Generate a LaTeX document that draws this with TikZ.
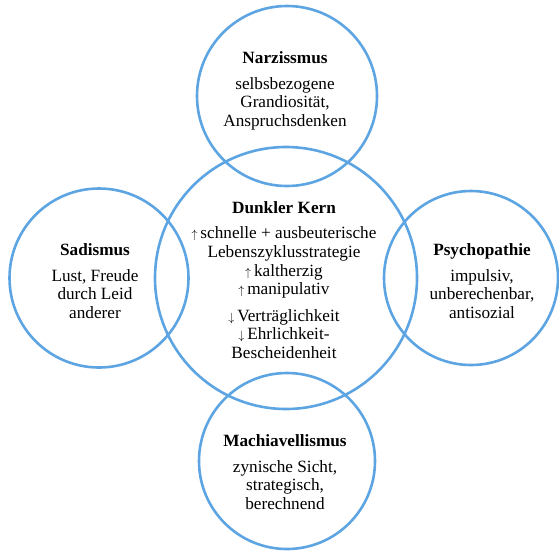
\documentclass[tikz,border=0pt]{standalone}
\usepackage{fontspec}
\setmainfont{Liberation Serif}
\definecolor{cblue}{RGB}{93,165,226}
\newcommand{\upar}{{\fontsize{13}{13}\selectfont$\uparrow$}}
\newcommand{\dnar}{{\fontsize{13}{13}\selectfont$\downarrow$}}
\begin{document}
\begin{tikzpicture}[x=1pt,y=-1pt,
  ring/.style={circle,draw=cblue,line width=2.6pt,inner sep=0pt},
  lbl/.style={align=center,font=\fontsize{17.2}{18.6}\selectfont,inner sep=0pt,text=black}]
\useasboundingbox (0,0) rectangle (559,550);
\node[ring,minimum size=262pt] (kern) at (286,278) {};
\node[ring,minimum size=180pt] (narz) at (287,96) {};
\node[ring,minimum size=179pt] (sad) at (99,278) {};
\node[ring,minimum size=174pt] (psy) at (471,278) {};
\node[ring,minimum size=176pt] (mach) at (287,461) {};

\node[lbl] (tnarz) at (285,91) {\textbf{Narzissmus}\\[7pt]selbsbezogene\\Grandiosität,\\Anspruchsdenken};
\node[lbl] (tsad) at (95,281) {\textbf{Sadismus}\\[7pt]Lust, Freude\\durch Leid\\anderer};
\node[lbl] (tpsy) at (482,281) {\textbf{Psychopathie}\\[7pt]impulsiv,\\unberechenbar,\\antisozial};
\node[lbl] (tmach) at (285,472) {\textbf{Machiavellismus}\\[7pt]zynische Sicht,\\strategisch,\\berechnend};
\node[lbl] (tkern) at (284,280) {\textbf{Dunkler Kern}\\[7pt]\upar\,schnelle + ausbeuterische\\Lebenszyklusstrategie\\\upar\,kaltherzig\\\upar\,manipulativ\\[8pt]\dnar\,Verträglichkeit\\\dnar\,Ehrlichkeit-\\Bescheidenheit};
\end{tikzpicture}
\end{document}
